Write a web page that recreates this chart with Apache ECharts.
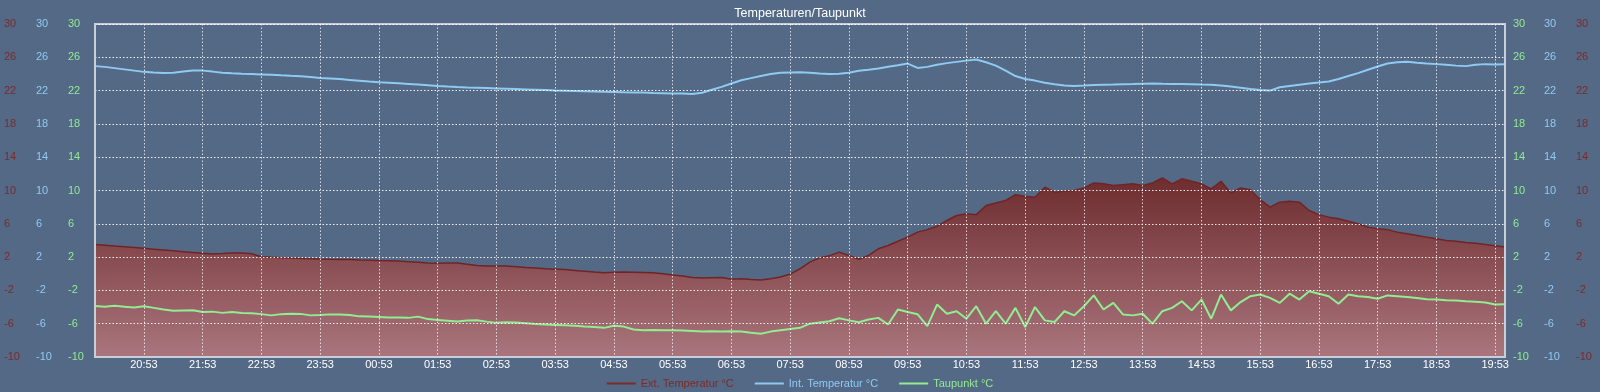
<!DOCTYPE html>
<html><head><meta charset="utf-8">
<script src="https://cdn.jsdelivr.net/npm/echarts@6/dist/echarts.min.js"></script>
<style>html,body{margin:0;padding:0;background:#536986;}#c{width:1600px;height:392px;}</style>
</head><body><div id="c"></div>
<script>
const startTime = '20:03';
const stepMinutes = 10;
const hourLabels = ['20:53','21:53','22:53','23:53','00:53','01:53','02:53','03:53','04:53','05:53','06:53','07:53','08:53','09:53','10:53','11:53','12:53','13:53','14:53','15:53','16:53','17:53','18:53','19:53'];
const yTicks = [-10,-6,-2,2,6,10,14,18,22,26,30];
const seriesNames = ['Ext. Temperatur °C','Int. Temperatur °C','Taupunkt °C'];

const extTemp = [
 3.5,3.42,3.33,3.25,3.15,3.05,2.95,2.85,2.75,2.65,2.55,2.45,2.37,2.42,2.5,2.48,2.4,2.05,1.97,1.92,1.88,1.84,1.8,1.76,1.73,
 1.72,1.7,1.66,1.63,1.6,1.57,1.52,1.45,1.38,1.3,1.25,1.3,1.28,1.15,1.0,0.92,0.93,0.92,0.85,0.75,0.68,0.6,0.55,0.5,
 0.4,0.3,0.2,0.12,0.18,0.2,0.18,0.15,0.12,0.0,-0.15,-0.28,-0.45,-0.52,-0.48,-0.44,-0.66,-0.6,-0.7,-0.76,-0.6,-0.4,-0.04,0.6,
 1.4,1.9,2.15,2.6,2.2,1.75,2.2,3.0,3.4,3.9,4.4,5.0,5.3,5.7,6.4,7.0,7.2,7.1,8.2,8.5,8.8,9.5,9.3,9.2,
 10.4,9.8,9.9,10.0,10.3,10.9,10.8,10.6,10.7,10.8,10.6,10.9,11.5,10.8,11.4,11.1,10.8,10.2,11.1,9.7,10.3,10.1,8.9,
 8.0,8.6,8.7,8.6,7.6,7.1,6.8,6.6,6.3,6.0,5.6,5.4,5.3,5.0,4.8,4.6,4.4,4.2,4.0,3.9,3.75,3.65,3.5,3.35,3.2
];
const intTemp = [
 24.94,24.85,24.7,24.55,24.4,24.25,24.18,24.12,24.15,24.3,24.4,24.4,24.28,24.15,24.08,24.02,23.98,23.94,23.9,23.83,23.77,23.72,23.62,23.52,23.45,
 23.38,23.28,23.18,23.08,23.0,22.95,22.88,22.8,22.72,22.64,22.56,22.49,22.43,22.38,22.34,22.3,22.26,22.22,22.18,22.14,22.1,22.06,22.02,21.99,
 21.96,21.93,21.9,21.86,21.83,21.8,21.78,21.76,21.72,21.69,21.66,21.64,21.58,21.75,22.1,22.45,22.85,23.25,23.5,23.75,24.0,24.14,24.18,24.2,
 24.15,24.05,24.0,24.02,24.15,24.38,24.5,24.65,24.86,25.05,25.25,24.72,24.85,25.1,25.3,25.45,25.6,25.74,25.4,25.0,24.4,23.75,23.4,23.2,
 22.95,22.75,22.62,22.55,22.6,22.68,22.7,22.72,22.75,22.78,22.82,22.85,22.82,22.8,22.78,22.75,22.72,22.7,22.6,22.48,22.35,22.2,22.08,
 22.0,22.4,22.55,22.7,22.85,22.98,23.1,23.4,23.75,24.1,24.5,24.9,25.26,25.4,25.46,25.35,25.26,25.18,25.1,25.0,24.94,25.1,25.18,25.15,25.18
];
const dewPoint = [
 -3.86,-3.95,-3.85,-3.95,-4.05,-3.9,-4.1,-4.3,-4.45,-4.4,-4.38,-4.6,-4.55,-4.7,-4.6,-4.72,-4.75,-4.85,-5.0,-4.85,-4.8,-4.82,-5.0,-4.95,-4.88,
 -4.9,-4.95,-5.12,-5.15,-5.2,-5.25,-5.26,-5.3,-5.15,-5.45,-5.55,-5.65,-5.75,-5.62,-5.58,-5.75,-5.9,-5.82,-5.85,-5.95,-6.05,-6.1,-6.15,-6.2,
 -6.25,-6.35,-6.4,-6.5,-6.25,-6.35,-6.7,-6.8,-6.75,-6.8,-6.78,-6.82,-6.88,-6.95,-6.9,-6.95,-6.92,-6.95,-7.1,-7.2,-6.95,-6.8,-6.65,-6.5,
 -6.0,-5.85,-5.7,-5.35,-5.6,-5.82,-5.5,-5.3,-6.1,-4.3,-4.6,-4.86,-6.3,-3.7,-4.8,-4.5,-5.4,-3.9,-6.0,-4.5,-6.0,-4.1,-6.4,-4.0,
 -5.6,-5.8,-4.5,-5.0,-3.9,-2.6,-4.3,-3.5,-4.9,-5.0,-4.8,-6.0,-4.5,-4.1,-3.3,-4.4,-3.1,-5.4,-2.5,-4.4,-3.4,-2.7,-2.5,
 -2.9,-3.5,-2.4,-3.1,-2.1,-2.4,-2.7,-3.6,-2.5,-2.7,-2.8,-3.0,-2.6,-2.7,-2.8,-2.9,-3.05,-3.1,-3.17,-3.2,-3.3,-3.35,-3.45,-3.7,-3.65
];

// category labels (time of each sample)
const categories = [];
(function(){
  const p = startTime.split(':');
  let m = (+p[0]) * 60 + (+p[1]);
  for (let i = 0; i < extTemp.length; i++) {
    const t = (m + i * stepMinutes) % 1440;
    categories.push(String(Math.floor(t / 60)).padStart(2, '0') + ':' + String(t % 60).padStart(2, '0'));
  }
})();

const RED = '#7e2a2a', BLUE = '#8fcaf2', GREEN = '#92ec92';
const isHour = (idx, val) => hourLabels.indexOf(val) >= 0;

function yAxisDef(pos, color, margin, showSplit, showLine) {
  return {
    type: 'value', position: pos, min: -10, max: 30,
    axisLine: { show: showLine, lineStyle: { color: '#c9ced8', width: 2 } },
    axisTick: { show: false, customValues: yTicks },
    axisLabel: { color: color, fontSize: 11, align: 'left', margin: margin, customValues: yTicks, fontFamily: 'Liberation Sans, Arial, sans-serif' },
    splitLine: { show: showSplit, lineStyle: { type: [1.5, 2], color: 'rgba(255,255,255,0.9)', width: 1 } },
    z: 3
  };
}

const chart = echarts.init(document.getElementById('c'), null, { renderer: 'canvas' });
chart.setOption({
  backgroundColor: '#536986',
  animation: false,
  textStyle: { fontFamily: 'Liberation Sans, Arial, sans-serif' },
  title: {
    text: 'Temperaturen/Taupunkt', left: 'center', top: 2,
    textStyle: { color: '#ffffff', fontSize: 12.5, fontWeight: 'normal' }
  },
  legend: {
    left: 'center', top: 373, icon: 'rect', itemWidth: 29, itemHeight: 2, itemGap: 21,
    textStyle: { fontSize: 11 },
    data: [
      { name: seriesNames[0], textStyle: { color: RED } },
      { name: seriesNames[1], textStyle: { color: BLUE } },
      { name: seriesNames[2], textStyle: { color: GREEN } }
    ]
  },
  grid: { left: 95, right: 95, top: 24, bottom: 35, show: true, borderColor: '#c9ced8', borderWidth: 2, containLabel: false },
  xAxis: {
    type: 'category', data: categories, boundaryGap: false, z: 3,
    axisLine: { show: true, onZero: false, lineStyle: { color: '#c9ced8', width: 2 } },
    axisTick: { show: false },
    axisLabel: { color: '#ffffff', fontSize: 11, margin: 2, interval: isHour },
    splitLine: { show: true, interval: isHour, lineStyle: { type: [1.5, 2], color: 'rgba(255,255,255,0.75)', width: 1 } }
  },
  yAxis: [
    yAxisDef('left', RED, 91, true, true),
    yAxisDef('left', BLUE, 59, false, false),
    yAxisDef('left', GREEN, 27, false, false),
    yAxisDef('right', GREEN, 8, false, true),
    yAxisDef('right', BLUE, 39, false, false),
    yAxisDef('right', RED, 71, false, false)
  ],
  series: [
    {
      name: seriesNames[0], type: 'line', yAxisIndex: 5, data: extTemp, color: RED,
      showSymbol: false, smooth: false, z: 2,
      lineStyle: { color: '#722424', width: 1.5 },
      areaStyle: {
        origin: 'start',
        opacity: 0.93,
        color: new echarts.graphic.LinearGradient(0, 0, 0, 1, [
          { offset: 0, color: '#702828' },
          { offset: 1, color: '#b0767c' }
        ])
      }
    },
    {
      name: seriesNames[1], type: 'line', yAxisIndex: 4, data: intTemp, color: BLUE,
      showSymbol: false, z: 2, lineStyle: { color: BLUE, width: 2 }
    },
    {
      name: seriesNames[2], type: 'line', yAxisIndex: 3, data: dewPoint, color: GREEN,
      showSymbol: false, z: 2, lineStyle: { color: GREEN, width: 2 }
    }
  ]
});
</script>
</body></html>
